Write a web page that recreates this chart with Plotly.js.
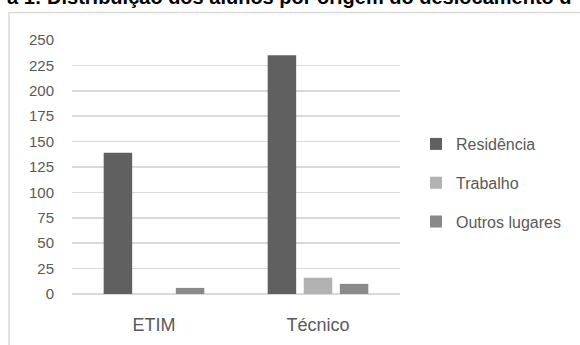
<!DOCTYPE html>
<html>
<head>
<meta charset="utf-8">
<script src="https://cdn.plot.ly/plotly-3.0.1.min.js"></script>
<style>
  html, body { margin: 0; padding: 0; background: #fff; }
  #chart { width: 580px; height: 345px; }
</style>
</head>
<body>
<div id="chart"></div>
<script>
const categories = ['ETIM', 'Técnico'];
const residencia = [139, 235];
const trabalho = [0, 16];
const outrosLugares = [6, 10];
const seriesNames = ['Residência', 'Trabalho', 'Outros lugares'];
const tickValues = [0, 25, 50, 75, 100, 125, 150, 175, 200, 225, 250];
const titleText = 'a 1: Distribuição dos alunos por origem do deslocamento d';

const colors = ['#606060', '#b2b2b2', '#898989'];
const textColor = '#595959';
const FONT = '"Liberation Sans", Arial, sans-serif';

const seriesValues = [residencia, trabalho, outrosLugares];
const traces = seriesValues.map((vals, i) => ({
  type: 'bar',
  name: seriesNames[i],
  x: categories,
  y: vals,
  marker: { color: colors[i], line: { width: 0 } },
  legendgroup: 'g' + i,
  hoverinfo: 'x+y+name'
}));

// plot area in pixels: left 72, right 400, top 40, bottom 294
const L = 72, R = 580 - 400, T = 40, B = 345 - 294;
const W = 580 - L - R, H = 345 - T - B;
const px2x = p => (p - L) / W;
const py2y = p => (345 - B - p) / H;

const layout = {
  width: 580,
  height: 345,
  margin: { l: L, r: R, t: T, b: B, pad: 0 },
  paper_bgcolor: '#ffffff',
  plot_bgcolor: '#ffffff',
  font: { family: FONT, color: textColor, size: 15 },
  barmode: 'group',
  bargap: 0.34,
  bargroupgap: 0.21,
  showlegend: true,
  legend: {
    x: px2x(416),
    xanchor: 'left',
    y: py2y(127),
    yanchor: 'top',
    font: { family: FONT, size: 16, color: textColor },
    traceorder: 'grouped',
    tracegroupgap: 15,
    bgcolor: 'rgba(0,0,0,0)'
  },
  xaxis: {
    type: 'category',
    showgrid: false,
    zeroline: false,
    showline: false,
    ticks: '',
    tickfont: { family: FONT, size: 18, color: textColor },
    ticklabelstandoff: 18,
    fixedrange: true
  },
  yaxis: {
    range: [0, 250],
    tickmode: 'array',
    tickvals: tickValues,
    ticktext: tickValues.map(String),
    showgrid: true,
    gridcolor: '#d9d9d9',
    gridwidth: 1.5,
    zeroline: true,
    zerolinecolor: '#d9d9d9',
    zerolinewidth: 1.5,
    showline: false,
    ticks: '',
    tickfont: { family: FONT, size: 15, color: textColor },
    ticklabelstandoff: 17,
    fixedrange: true
  },
  shapes: [{
    type: 'rect',
    xref: 'paper', yref: 'paper',
    x0: px2x(9), x1: px2x(700),
    y0: py2y(500), y1: py2y(12.5),
    line: { color: '#d9d9d9', width: 1.5 },
    fillcolor: 'rgba(0,0,0,0)',
    layer: 'below'
  }],
  annotations: [{
    xref: 'paper', yref: 'paper',
    x: px2x(289), y: py2y(-3),
    xanchor: 'center', yanchor: 'middle',
    text: '<b>' + titleText + '</b>',
    showarrow: false,
    font: { family: FONT, size: 20, color: '#000000' }
  }]
};

Plotly.newPlot('chart', traces, layout, { displayModeBar: false, staticPlot: true });
</script>
</body>
</html>
